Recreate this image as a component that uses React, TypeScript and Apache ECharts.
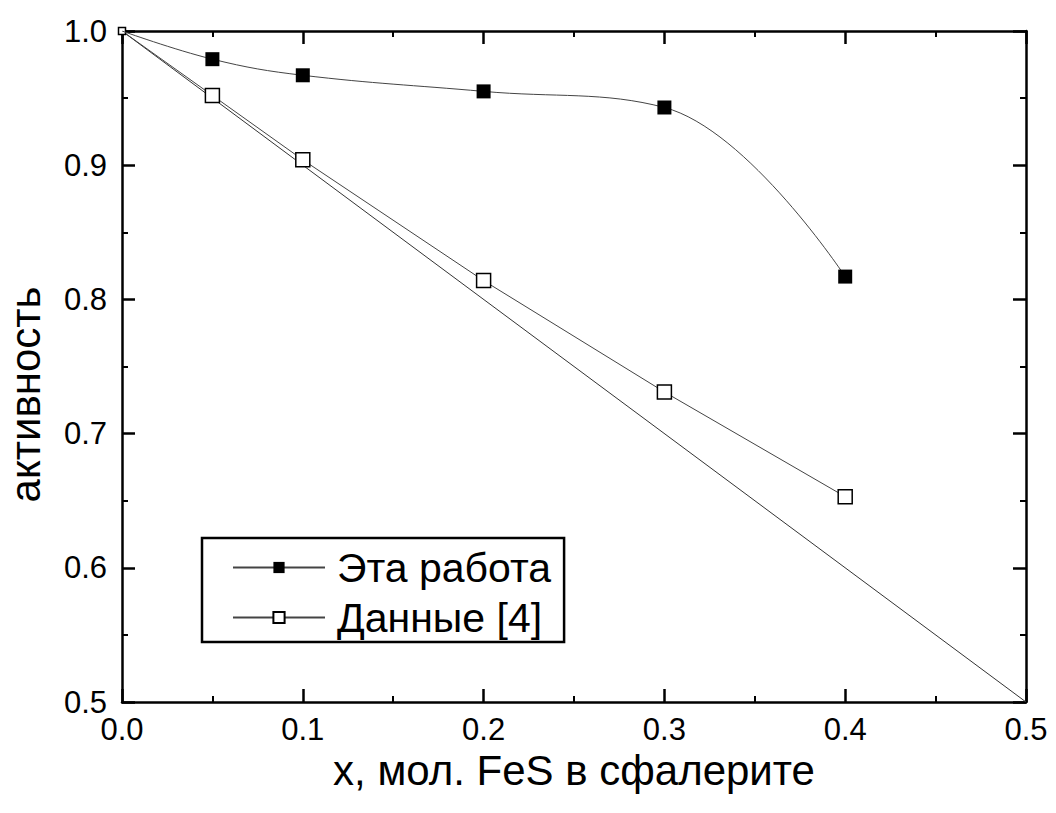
import React, { useEffect, useRef } from "react";
import * as echarts from "echarts";

const seriesNames = ["Эта работа", "Данные [4]"];
const xThisWork = [0, 0.05, 0.1, 0.2, 0.3, 0.4];
const yThisWork = [1.0, 0.979, 0.967, 0.955, 0.943, 0.817];
const xRef4 = [0, 0.05, 0.1, 0.2, 0.3, 0.4];
const yRef4 = [1.0, 0.952, 0.904, 0.814, 0.731, 0.653];
const xIdeal = [0, 0.5];
const yIdeal = [1.0, 0.5];
const xTitle = "x, мол. FeS в сфалерите";
const yTitle = "активность";

const FONT = "'Liberation Sans', Arial, sans-serif";

export default function App() {
  const ref = useRef<HTMLDivElement>(null);
  useEffect(() => {
    const chart = echarts.init(ref.current!, null, { renderer: "svg" });
    const axisCommon = {
      min: 0,
      max: 0.5,
      interval: 0.1,
      axisLine: { show: true, onZero: false, lineStyle: { color: "#000", width: 2.5 } },
      axisTick: { show: true, inside: true, length: 13, lineStyle: { color: "#000", width: 2.5 } },
      minorTick: { show: true, splitNumber: 2, length: 6, lineStyle: { color: "#000", width: 2 } },
      splitLine: { show: false },
    };
    const yCommon = { ...axisCommon, min: 0.5, max: 1.0, interval: 0.1 };
    const lab = (v: number) => v.toFixed(1);
    chart.setOption({
      animation: false,
      backgroundColor: "#fff",
      grid: {
        left: 122,
        right: 30,
        top: 31,
        bottom: 111,
        containLabel: false,
        outerBoundsMode: "none",
      },
      xAxis: [
        {
          ...axisCommon,
          type: "value",
          position: "bottom",
          name: xTitle,
          nameLocation: "middle",
          nameGap: 43,
          nameTextStyle: { fontFamily: FONT, fontSize: 42, color: "#000" },
          axisLabel: { formatter: lab, fontFamily: FONT, fontSize: 31, color: "#000", margin: 12 },
        },
        {
          ...axisCommon,
          type: "value",
          position: "top",
          axisLabel: { show: false },
        },
      ],
      yAxis: [
        {
          ...yCommon,
          type: "value",
          position: "left",
          name: yTitle,
          nameLocation: "middle",
          nameGap: 76,
          nameTextStyle: {
            fontFamily: FONT,
            fontSize: 42,
            color: "#000",
            padding: [0, 56, 0, 0],
          },
          axisLabel: {
            formatter: lab,
            fontFamily: FONT,
            fontSize: 31,
            color: "#000",
            margin: 15,
            padding: [0, 0, 6, 0],
          },
        },
        {
          ...yCommon,
          type: "value",
          position: "right",
          axisLabel: { show: false },
        },
      ],
      legend: {
        data: seriesNames,
        orient: "vertical",
        left: 202,
        top: 538,
        padding: [9, 13, 4, 30],
        itemGap: 9,
        itemWidth: 92,
        itemHeight: 14,
        borderColor: "#000",
        borderWidth: 2.5,
        backgroundColor: "#fff",
        textStyle: { fontFamily: FONT, fontSize: 41, color: "#000", padding: [0, 0, 0, 7] },
      },
      series: [
        {
          name: "ideal",
          type: "line",
          data: xIdeal.map((x, i) => [x, yIdeal[i]]),
          symbol: "none",
          lineStyle: { color: "#333", width: 1 },
          z: 1,
        },
        {
          name: seriesNames[0],
          type: "line",
          smooth: 0.4,
          data: xThisWork.map((x, i) =>
            i === 0 ? { value: [x, yThisWork[i]], symbol: "none" } : [x, yThisWork[i]]
          ),
          symbol: "rect",
          symbolSize: 14,
          itemStyle: { color: "#000", borderColor: "#000", borderWidth: 0 },
          lineStyle: { color: "#444", width: 1 },
          z: 3,
        },
        {
          name: seriesNames[1],
          type: "line",
          data: xRef4.map((x, i) =>
            i === 0 ? { value: [x, yRef4[i]], symbolSize: 7 } : [x, yRef4[i]]
          ),
          symbol: "rect",
          symbolSize: 14,
          itemStyle: { color: "#fff", borderColor: "#000", borderWidth: 1.5 },
          lineStyle: { color: "#444", width: 1 },
          z: 2,
        },
      ],
    });
    return () => chart.dispose();
  }, []);
  return <div ref={ref} style={{ width: 1056, height: 813, margin: -8 }} />;
}
